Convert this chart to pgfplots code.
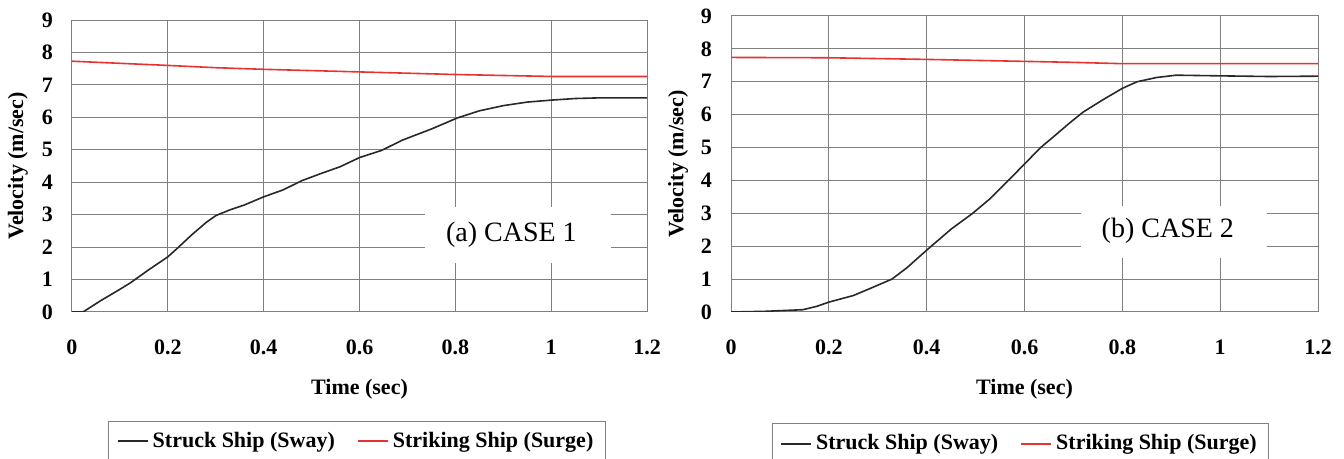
\documentclass[border=0pt]{standalone}
\usepackage{fontspec}
\setmainfont{Liberation Serif}
\usepackage{pgfplots}
\pgfplotsset{compat=1.18}

\definecolor{gridgray}{RGB}{128,128,128}
\definecolor{sway}{RGB}{40,40,40}
\definecolor{surge}{RGB}{232,50,50}

\pgfplotsset{
  shipstyle/.style={
    scale only axis,
    xmin=0, xmax=1.2, ymin=0, ymax=9,
    xtick={0,0.2,0.4,0.6,0.8,1,1.2},
    xticklabels={0,0.2,0.4,0.6,0.8,1,1.2},
    ytick={0,1,2,3,4,5,6,7,8,9},
    yticklabels={0,1,2,3,4,5,6,7,8,9},
    grid=major,
    major grid style={gridgray, line width=0.5pt},
    axis line style={gridgray, line width=0.5pt},
    major tick length=0pt,
    tick label style={font=\bfseries\fontsize{11}{13}\selectfont},
    xticklabel style={yshift=-10.5pt},
    yticklabel style={xshift=-6pt},
    label style={font=\bfseries\fontsize{11}{13}\selectfont},
    legend columns=2,
    legend cell align=left,
    legend style={draw=gridgray, line width=0.5pt, font=\bfseries\fontsize{11}{13}\selectfont,
      inner xsep=4pt, inner ysep=3.5pt,
      /tikz/every even column/.append style={column sep=9pt}},
    legend image code/.code={\draw[#1, line width=1pt] (0pt,0pt) -- (15pt,0pt);},
  }
}

\begin{document}
\begin{tikzpicture}
\path[use as bounding box] (0,0) rectangle (672pt,229.5pt);
\begin{axis}[shipstyle, at={(36pt,73.5pt)}, anchor=south west, width=287.5pt, height=146pt,
  xlabel={Time (sec)}, ylabel={Velocity (m/sec)},
  xlabel style={at={(axis description cs:0.5,-0.265)}, anchor=center},
  ylabel style={at={(axis description cs:-0.094,0.5)}, anchor=center},
  legend style={at={(axis description cs:0.4957,-0.372)}, anchor=north},
]
\addplot[sway, line width=0.8pt] coordinates {
(0,0) (0.023,0) (0.06,0.35) (0.1,0.7) (0.122,0.9) (0.16,1.3) (0.2,1.7) (0.221,1.98) (0.25,2.38)
(0.28,2.76) (0.3,2.97) (0.33,3.15) (0.36,3.3) (0.4,3.55) (0.44,3.76) (0.48,4.05) (0.52,4.27)
(0.56,4.48) (0.6,4.76) (0.646,4.98) (0.69,5.3) (0.75,5.64) (0.804,5.98) (0.85,6.2) (0.9,6.36)
(0.95,6.47) (1.0,6.53) (1.05,6.58) (1.1,6.6) (1.2,6.6)};
\addplot[surge, line width=0.8pt] coordinates {
(0,7.73) (0.2,7.6) (0.3,7.53) (0.4,7.48) (0.6,7.4) (0.8,7.32) (0.9,7.29) (1.0,7.26) (1.2,7.26)};
\legend{Struck Ship (Sway), Striking Ship (Surge)}
\node[fill=white, minimum width=93pt, minimum height=28pt, inner sep=0pt] at (axis cs:0.931,2.38) {};
\node[font=\fontsize{14}{16}\selectfont, inner sep=0pt] at (axis cs:0.917,2.38) {(a) CASE 1};
\end{axis}

\begin{axis}[shipstyle, at={(365.5pt,73.5pt)}, anchor=south west, width=293.5pt, height=148pt,
  xlabel={Time (sec)}, ylabel={Velocity (m/sec)},
  xlabel style={at={(axis description cs:0.5,-0.262)}, anchor=center},
  ylabel style={at={(axis description cs:-0.09,0.5)}, anchor=center},
  legend style={at={(axis description cs:0.493,-0.375)}, anchor=north},
]
\addplot[sway, line width=0.8pt] coordinates {
(0,0) (0.069,0.02) (0.147,0.07) (0.175,0.17) (0.2,0.3) (0.25,0.5) (0.29,0.75) (0.329,1.0)
(0.36,1.35) (0.4,1.88) (0.45,2.52) (0.494,3.0) (0.53,3.45) (0.567,4.0) (0.6,4.5) (0.633,5.0)
(0.665,5.4) (0.69,5.72) (0.72,6.08) (0.76,6.45) (0.8,6.8) (0.83,7.0) (0.87,7.13) (0.91,7.2) (1.0,7.18)
(1.1,7.16) (1.2,7.17)};
\addplot[surge, line width=0.8pt] coordinates {
(0,7.74) (0.2,7.73) (0.4,7.68) (0.6,7.62) (0.7,7.59) (0.8,7.55) (1.2,7.55)};
\legend{Struck Ship (Sway), Striking Ship (Surge)}
\node[fill=white, minimum width=93pt, minimum height=26pt, inner sep=0pt] at (axis cs:0.906,2.43) {};
\node[font=\fontsize{14}{16}\selectfont, inner sep=0pt] at (axis cs:0.893,2.46) {(b) CASE 2};
\end{axis}
\end{tikzpicture}
\end{document}
